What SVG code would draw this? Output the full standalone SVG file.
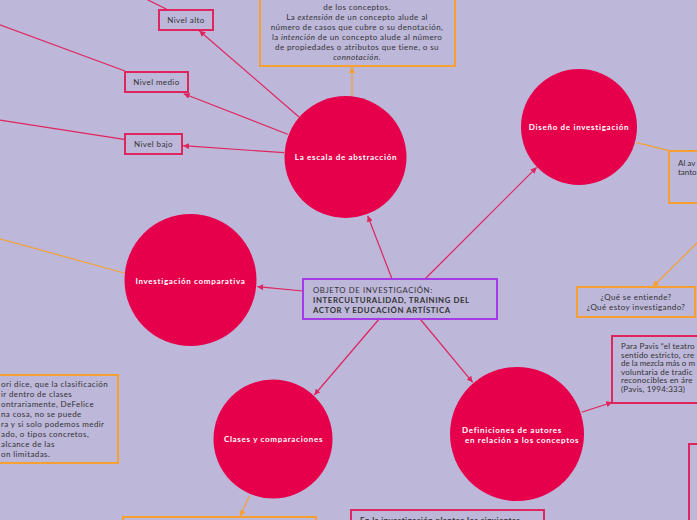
<svg xmlns="http://www.w3.org/2000/svg" width="697" height="520" viewBox="0 0 697 520">
<defs>
<marker id="ap" viewBox="0 0 6 6" refX="6" refY="3" markerWidth="5" markerHeight="5" orient="auto"><path d="M0,0 L6,3 L0,6 z" fill="#E0245E"/></marker>
<marker id="ao" viewBox="0 0 6 6" refX="6" refY="3" markerWidth="5" markerHeight="5" orient="auto"><path d="M0,0 L6,3 L0,6 z" fill="#F5A030"/></marker>
</defs>
<style>
.c{fill:#E6004C}
.ct{font-family:Lato,"Noto Sans",sans-serif;font-weight:bold;font-size:8px;fill:#fff;letter-spacing:0.7px}
.pb{fill:none;stroke:#E0245E;stroke-width:2}
.ob{fill:none;stroke:#F5A030;stroke-width:2}
.t{font-family:Lato,"Noto Sans",sans-serif;font-size:8px;fill:#333;letter-spacing:0.4px}
.h{font-family:Lato,"Noto Sans",sans-serif;font-size:7.8px;fill:#333;letter-spacing:0.6px}
.pl{fill:none;stroke:#E0245E;stroke-width:1.2}
.ol{fill:none;stroke:#F5A030;stroke-width:1.2}
</style>
<rect width="697" height="520" fill="#BDB7DA"/>
<g id="connectors">
<line class="pl" x1="392" y1="279" x2="367.7" y2="215.7" marker-end="url(#ap)"/>
<line class="pl" x1="425" y1="279" x2="536.7" y2="167.3" marker-end="url(#ap)"/>
<line class="pl" x1="303" y1="291" x2="257.3" y2="286.7" marker-end="url(#ap)"/>
<line class="pl" x1="380" y1="318" x2="314.3" y2="395" marker-end="url(#ap)"/>
<line class="pl" x1="419.3" y1="318" x2="472.7" y2="382.3" marker-end="url(#ap)"/>
<line class="pl" x1="299" y1="117" x2="199.3" y2="30.7" marker-end="url(#ap)"/>
<line class="pl" x1="287.7" y1="134.3" x2="183.7" y2="93.7" marker-end="url(#ap)"/>
<line class="pl" x1="284" y1="152.7" x2="183" y2="145.7" marker-end="url(#ap)"/>
<line class="pl" x1="581.7" y1="412.3" x2="612.3" y2="402.3" marker-end="url(#ap)"/>
<line class="pl" x1="166.7" y1="9.3" x2="130" y2="-9"/>
<line class="pl" x1="125" y1="71" x2="-10" y2="21.3"/>
<line class="pl" x1="124" y1="139.3" x2="-10" y2="118.5"/>
<line class="ol" x1="352" y1="96" x2="352" y2="67" marker-end="url(#ao)"/>
<line class="ol" x1="636.7" y1="142.7" x2="669" y2="150.7"/>
<line class="ol" x1="705" y1="235" x2="652.7" y2="286.7" marker-end="url(#ao)"/>
<line class="ol" x1="124" y1="273" x2="-10" y2="236"/>
<line class="ol" x1="249.3" y1="496" x2="240" y2="516.5" marker-end="url(#ao)"/>
</g>
<g id="center">
<rect x="303" y="279" width="194" height="40" fill="none" stroke="#A43BE6" stroke-width="2"/>
<text class="h" x="313" y="293">OBJETO DE INVESTIGACIÓN:</text>
<text class="h" x="313" y="303" font-weight="bold">INTERCULTURALIDAD, TRAINING DEL</text>
<text class="h" x="313" y="312.5" font-weight="bold">ACTOR Y EDUCACIÓN ARTÍSTICA</text>
</g>
<g id="escala">
<circle class="c" cx="345.5" cy="157" r="61"/>
<text class="ct" x="346" y="160" text-anchor="middle">La escala de abstracción</text>
</g>
<g id="diseno">
<circle class="c" cx="579" cy="127" r="58"/>
<text class="ct" x="579" y="130" text-anchor="middle">Diseño de investigación</text>
</g>
<g id="comparativa">
<circle class="c" cx="190.5" cy="280" r="66"/>
<text class="ct" x="190.5" y="283.5" text-anchor="middle">Investigación comparativa</text>
</g>
<g id="clases">
<circle class="c" cx="273" cy="439" r="59.5"/>
<text class="ct" x="273.5" y="442" text-anchor="middle">Clases y comparaciones</text>
</g>
<g id="definiciones">
<circle class="c" cx="517" cy="434" r="67"/>
<text class="ct" x="462" y="433">Definiciones de autores</text>
<text class="ct" x="465" y="443">en relación a los conceptos</text>
</g>
<g id="topbox">
<rect class="ob" x="260" y="-20" width="195" height="86"/>
<g class="t" text-anchor="middle">
<text x="357" y="10">de los conceptos.</text>
<text x="357" y="20">La <tspan font-style="italic">extensión</tspan> de un concepto alude al</text>
<text x="357" y="30">número de casos que cubre o su denotación,</text>
<text x="357" y="40">la <tspan font-style="italic">intención</tspan> de un concepto alude al número</text>
<text x="357" y="50">de propiedades o atributos que tiene, o su</text>
<text x="357" y="59.5"><tspan font-style="italic">connotación</tspan>.</text>
</g>
</g>
<g id="nivel-alto">
<rect class="pb" x="159" y="10" width="54" height="20"/>
<text class="t" x="186" y="22.5" text-anchor="middle">Nivel alto</text>
</g>
<g id="nivel-medio">
<rect class="pb" x="125" y="72" width="63" height="20"/>
<text class="t" x="156.5" y="84.5" text-anchor="middle">Nivel medio</text>
</g>
<g id="nivel-bajo">
<rect class="pb" x="125" y="134" width="57" height="20"/>
<text class="t" x="153.5" y="146.5" text-anchor="middle">Nivel bajo</text>
</g>
<g id="alav">
<rect class="ob" x="669" y="151" width="40" height="52"/>
<text class="t" x="678" y="166" style="letter-spacing:0">Al av</text>
<text class="t" x="678" y="175" style="letter-spacing:0">tanto</text>
</g>
<g id="que">
<rect class="ob" x="577" y="287" width="118" height="30"/>
<text class="t" x="636" y="299.5" text-anchor="middle">¿Qué se entiende?</text>
<text class="t" x="636" y="309.5" text-anchor="middle">¿Qué estoy investigando?</text>
</g>
<g id="pavis">
<rect class="pb" x="612" y="336" width="100" height="67"/>
<g class="t" style="letter-spacing:0.2px">
<text x="621" y="349">Para Pavis “el teatro</text>
<text x="621" y="357.5">sentido estricto, cre</text>
<text x="621" y="366" style="letter-spacing:0">de la mezcla más o m</text>
<text x="621" y="374.5">voluntaria de tradic</text>
<text x="621" y="383">reconocibles en áre</text>
<text x="621" y="391.5">(Pavis, 1994:333)</text>
</g>
</g>
<g id="clasificacion">
<rect class="ob" x="-10" y="375" width="128" height="88"/>
<g class="t">
<text x="1" y="387">ori dice, que la clasificación</text>
<text x="1" y="397">ir dentro de clases</text>
<text x="1" y="407">ontrariamente, DeFelice</text>
<text x="1" y="417">na cosa, no se puede</text>
<text x="1" y="427">ra y si solo podemos medir</text>
<text x="1" y="437">ado, o tipos concretos,</text>
<text x="1" y="447">alcance de las</text>
<text x="1" y="457">on limitadas.</text>
</g>
</g>
<g id="bottom-orange">
<rect class="ob" x="123" y="517" width="193" height="20"/>
</g>
<g id="bottom-pink">
<rect class="pb" x="351" y="510" width="193" height="20"/>
<text class="t" x="360" y="523" font-weight="bold">En la investigación plantea los siguientes</text>
</g>
<g id="right-pink">
<rect class="pb" x="689" y="444" width="20" height="100"/>
</g>
</svg>
